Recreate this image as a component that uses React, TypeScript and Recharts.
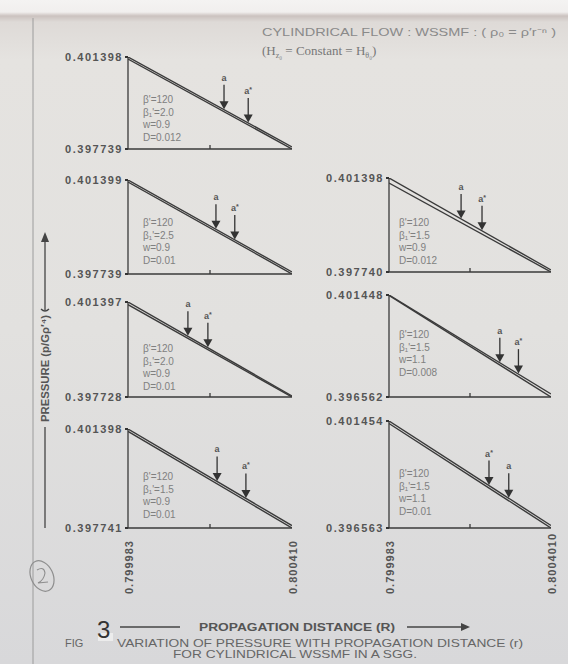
import { LineChart, Line, XAxis, YAxis, ReferenceDot } from 'recharts'

// propagation distance R (x extents and their printed labels)
const xLeft = [0.799983, 0.80041]
const xRight = [0.799983, 0.800401]
const xLabelsLeft = ['0.799983', '0.800410']
const xLabelsRight = ['0.799983', '0.8004010']

// pressure ranges (bottom, top) per panel
const p1Y = [0.397739, 0.401398]
const p2Y = [0.397739, 0.401399]
const p3Y = [0.39774, 0.401398]
const p4Y = [0.397728, 0.401397]
const p5Y = [0.396562, 0.401448]
const p6Y = [0.397741, 0.401398]
const p7Y = [0.396563, 0.401454]

// the two pressure curves (start, end) per panel
const p1Upper = [0.401398, 0.397819]
const p1Lower = [0.401318, 0.397739]
const p2Upper = [0.401399, 0.397817]
const p2Lower = [0.401321, 0.397739]
const p3Upper = [0.401398, 0.397818]
const p3Lower = [0.401203, 0.39774]
const p4Upper = [0.401397, 0.397766]
const p4Lower = [0.401297, 0.397728]
const p5Upper = [0.401448, 0.396705]
const p5Lower = [0.401424, 0.396562]
const p6Upper = [0.401398, 0.397831]
const p6Lower = [0.401308, 0.397741]
const p7Upper = [0.401454, 0.396677]
const p7Lower = [0.40134, 0.396563]

// arrow positions a / a* (in R)
const p1Arrows = [0.800233, 0.800296]
const p2Arrows = [0.800212, 0.800261]
const p3Arrows = [0.800169, 0.800223]
const p4Arrows = [0.800139, 0.800191]
const p5Arrows = [0.800269, 0.800317]
const p6Arrows = [0.800215, 0.80029]
const p7Arrows = [0.800241, 0.800292]
const arrowNames = ['a', 'a*']
const arrowNamesSwapped = ['a*', 'a']

// parameter blocks
const p1Params = ["β'=120", "β₁'=2.0", 'w=0.9', 'D=0.012']
const p2Params = ["β'=120", "β₁'=2.5", 'w=0.9', 'D=0.01']
const p3Params = ["β'=120", "β₁'=1.5", 'w=0.9', 'D=0.012']
const p4Params = ["β'=120", "β₁'=2.0", 'w=0.9', 'D=0.01']
const p5Params = ["β'=120", "β₁'=1.5", 'w=1.1', 'D=0.008']
const p6Params = ["β'=120", "β₁'=1.5", 'w=0.9', 'D=0.01']
const p7Params = ["β'=120", "β₁'=1.5", 'w=1.1', 'D=0.01']

const panels = [
  { y: p1Y, upper: p1Upper, lower: p1Lower, arrows: p1Arrows, names: arrowNames, params: p1Params, x: xLeft, xl: xLabelsLeft },
  { y: p2Y, upper: p2Upper, lower: p2Lower, arrows: p2Arrows, names: arrowNames, params: p2Params, x: xLeft, xl: xLabelsLeft },
  { y: p3Y, upper: p3Upper, lower: p3Lower, arrows: p3Arrows, names: arrowNames, params: p3Params, x: xRight, xl: xLabelsRight },
  { y: p4Y, upper: p4Upper, lower: p4Lower, arrows: p4Arrows, names: arrowNames, params: p4Params, x: xLeft, xl: xLabelsLeft },
  { y: p5Y, upper: p5Upper, lower: p5Lower, arrows: p5Arrows, names: arrowNames, params: p5Params, x: xRight, xl: xLabelsRight },
  { y: p6Y, upper: p6Upper, lower: p6Lower, arrows: p6Arrows, names: arrowNames, params: p6Params, x: xLeft, xl: xLabelsLeft },
  { y: p7Y, upper: p7Upper, lower: p7Lower, arrows: p7Arrows, names: arrowNamesSwapped, params: p7Params, x: xRight, xl: xLabelsRight },
]

// where each plot area sits on the page
const layout = [
  { left: 128, top: 57, w: 164, h: 92, textBottom: 11, inset: 15, bottom: false },
  { left: 128, top: 180, w: 164, h: 94, textBottom: 13, inset: 15, bottom: false },
  { left: 389, top: 178, w: 162, h: 94, textBottom: 11, inset: 10, bottom: false },
  { left: 128, top: 302, w: 164, h: 95, textBottom: 10, inset: 15, bottom: false },
  { left: 389, top: 295, w: 162, h: 102, textBottom: 24, inset: 10, bottom: false },
  { left: 128, top: 429, w: 164, h: 99, textBottom: 13, inset: 15, bottom: true },
  { left: 389, top: 421, w: 162, h: 107, textBottom: 16, inset: 10, bottom: true },
]

const YW = 90
const MT = 6
const MB = 8
const LH = 12.5
const INK = '#3a3a3a'
const FONT = '"Liberation Sans", Arial, sans-serif'

function YTick({ x, y, payload }: any) {
  return (
    <text x={x} y={y} dy={4} textAnchor="end" fontSize={11} fontWeight={700} fill="#555" letterSpacing={1.5} fontFamily={FONT}>
      {payload.value.toFixed(6)}
    </text>
  )
}

function XTick({ x, y, index, labels, show }: any) {
  if (index === 1) return <line x1={x} y1={y} x2={x} y2={y - 4} stroke={INK} strokeWidth={1.3} />
  if (!show) return <g />
  const t = index === 0 ? labels[0] : labels[1]
  return (
    <text transform={`translate(${x + 5},${y + 66}) rotate(-90)`} fontSize={11} fontWeight={700} fill="#555" letterSpacing={1} fontFamily={FONT}>
      {t}
    </text>
  )
}

function ArrowMark({ cx, cy, name }: any) {
  if (cx == null || cy == null) return <g />
  const star = name.endsWith('*')
  return (
    <g>
      <line x1={cx} y1={cy - 25} x2={cx} y2={cy - 7} stroke="#333" strokeWidth={1.3} />
      <path d={`M${cx - 4.5},${cy - 8.5}L${cx + 4.5},${cy - 8.5}L${cx},${cy - 0.5}Z`} fill="#333" />
      <text x={cx} y={cy - 29} textAnchor="middle" fontSize={9} fontWeight={700} fill="#555" fontFamily={FONT}>
        a{star && <tspan dy={-2} fontSize={7}>*</tspan>}
      </text>
    </g>
  )
}

function Panel({ d, l }: any) {
  const [x0, x1] = d.x
  const data = d.x.map((x: number, i: number) => ({ x, upper: d.upper[i], lower: d.lower[i] }))
  const mid = (x0 + x1) / 2
  const axisH = l.bottom ? 75 : 1
  const mb = l.bottom ? 0 : MB
  const W = YW + l.w + 12
  const H = MT + l.h + axisH + mb
  const onUpper = (ax: number) => d.upper[0] + ((d.upper[1] - d.upper[0]) * (ax - x0)) / (x1 - x0)

  return (
    <div style={{ position: 'absolute', left: l.left - YW, top: l.top - MT, width: W, height: H }}>
      <LineChart width={W} height={H} data={data} margin={{ top: MT, right: 12, bottom: mb, left: 0 }}>
        <XAxis
          type="number"
          dataKey="x"
          domain={[x0, x1]}
          ticks={[x0, mid, x1]}
          interval={0}
          height={axisH}
          tickSize={0}
          tickMargin={0}
          allowDataOverflow
          axisLine={{ stroke: INK, strokeWidth: 1.3 }}
          tickLine={false}
          tick={(p: any) => <XTick {...p} labels={d.xl} show={l.bottom} />}
        />
        <YAxis
          type="number"
          domain={[d.y[0], d.y[1]]}
          ticks={d.y}
          interval={0}
          width={YW}
          tickSize={3}
          tickMargin={2}
          allowDataOverflow
          axisLine={{ stroke: INK, strokeWidth: 1.3 }}
          tickLine={{ stroke: '#333', strokeWidth: 2 }}
          tick={<YTick />}
        />
        <Line dataKey="upper" stroke={INK} strokeWidth={1.4} dot={false} activeDot={false} isAnimationActive={false} />
        <Line dataKey="lower" stroke={INK} strokeWidth={1.4} dot={false} activeDot={false} isAnimationActive={false} />
        {d.arrows.map((ax: number, i: number) => (
          <ReferenceDot
            key={i}
            x={ax}
            y={onUpper(ax)}
            r={0}
            shape={(p: any) => <ArrowMark {...p} name={d.names[i]} />}
          />
        ))}
      </LineChart>
      <div
        style={{
          position: 'absolute',
          left: YW + l.inset,
          top: MT + l.h - l.textBottom - 3 * LH - LH / 2,
          fontSize: 10,
          lineHeight: LH + 'px',
          color: '#808080',
          fontFamily: FONT,
          whiteSpace: 'nowrap',
        }}
      >
        {d.params.map((t: string) => (
          <div key={t}>{t}</div>
        ))}
      </div>
    </div>
  )
}

export default function App() {
  return (
    <div
      style={{
        position: 'absolute',
        left: 0,
        top: 0,
        width: 568,
        height: 664,
        overflow: 'hidden',
        fontFamily: FONT,
        background:
          'linear-gradient(180deg, #f4f3f2 0px, #f1efee 12px, #cbc2bf 16px, #dedad7 22px, #e5e3e0 60px, #e2e1df 330px, #d8d8da 664px)',
      }}
    >
      <svg width={568} height={664} style={{ position: 'absolute', left: 0, top: 0 }}>
        <line x1={33} y1={18} x2={33} y2={664} stroke="#9c9c9c" strokeWidth={1} />

        <text x={262} y={36} fontSize={11} fill="#8a8a8a" textLength={294} lengthAdjust="spacingAndGlyphs">
          CYLINDRICAL FLOW :  WSSMF : ( ρ₀ = ρ′r⁻ⁿ )
        </text>
        <text x={262} y={55} fontSize={13} fill="#777" fontFamily='"Liberation Serif", serif'>
          (H<tspan dy={3} fontSize={8}>z₀</tspan>
          <tspan dy={-3}> = Constant = H</tspan>
          <tspan dy={3} fontSize={8}>θ₀</tspan>
          <tspan dy={-3}>)</tspan>
        </text>

        <line x1={45} y1={240} x2={45} y2={310} stroke="#444" strokeWidth={1.3} />
        <path d="M41,242L49,242L45,232Z" fill="#444" />
        <path d="M41,309Q45,313 49,309" fill="none" stroke="#444" strokeWidth={1.3} />
        <text transform="translate(49,422) rotate(-90)" fontSize={11} fontWeight={700} fill="#555" textLength={107} lengthAdjust="spacingAndGlyphs">
          PRESSURE (p/Gρ′⁴)
        </text>
        <line x1={45} y1={427} x2={45} y2={528} stroke="#444" strokeWidth={1.3} />

        <ellipse cx={42} cy={576} rx={11} ry={16} transform="rotate(-25 42 576)" fill="none" stroke="#8e8e8e" strokeWidth={1.2} />
        <path d="M37,570Q44,566 45,573Q44,580 38,583L48,582" fill="none" stroke="#8e8e8e" strokeWidth={1.1} />

        <rect x={98} y={633} width={15} height={8} fill="#ececec" />
        <text x={97} y={638} fontSize={24} fill="#333">3</text>
        <line x1={120} y1={627} x2={180} y2={627} stroke="#444" strokeWidth={1.3} />
        <text x={199} y={631} fontSize={11} fontWeight={700} fill="#555" textLength={196} lengthAdjust="spacingAndGlyphs">
          PROPAGATION DISTANCE (R)
        </text>
        <line x1={407} y1={627} x2={462} y2={627} stroke="#444" strokeWidth={1.3} />
        <path d="M461,623L470,627L461,631Z" fill="#444" />
        <text x={65} y={647} fontSize={11} fill="#666">FIG</text>
        <text x={117} y={647} fontSize={11} fill="#666" textLength={406} lengthAdjust="spacingAndGlyphs">
          VARIATION OF PRESSURE  WITH PROPAGATION DISTANCE (r)
        </text>
        <text x={173} y={658} fontSize={11} fill="#666" textLength={244} lengthAdjust="spacingAndGlyphs">
          FOR CYLINDRICAL WSSMF IN A SGG.
        </text>
      </svg>

      {panels.map((d, i) => (
        <Panel key={i} d={d} l={layout[i]} />
      ))}
    </div>
  )
}
